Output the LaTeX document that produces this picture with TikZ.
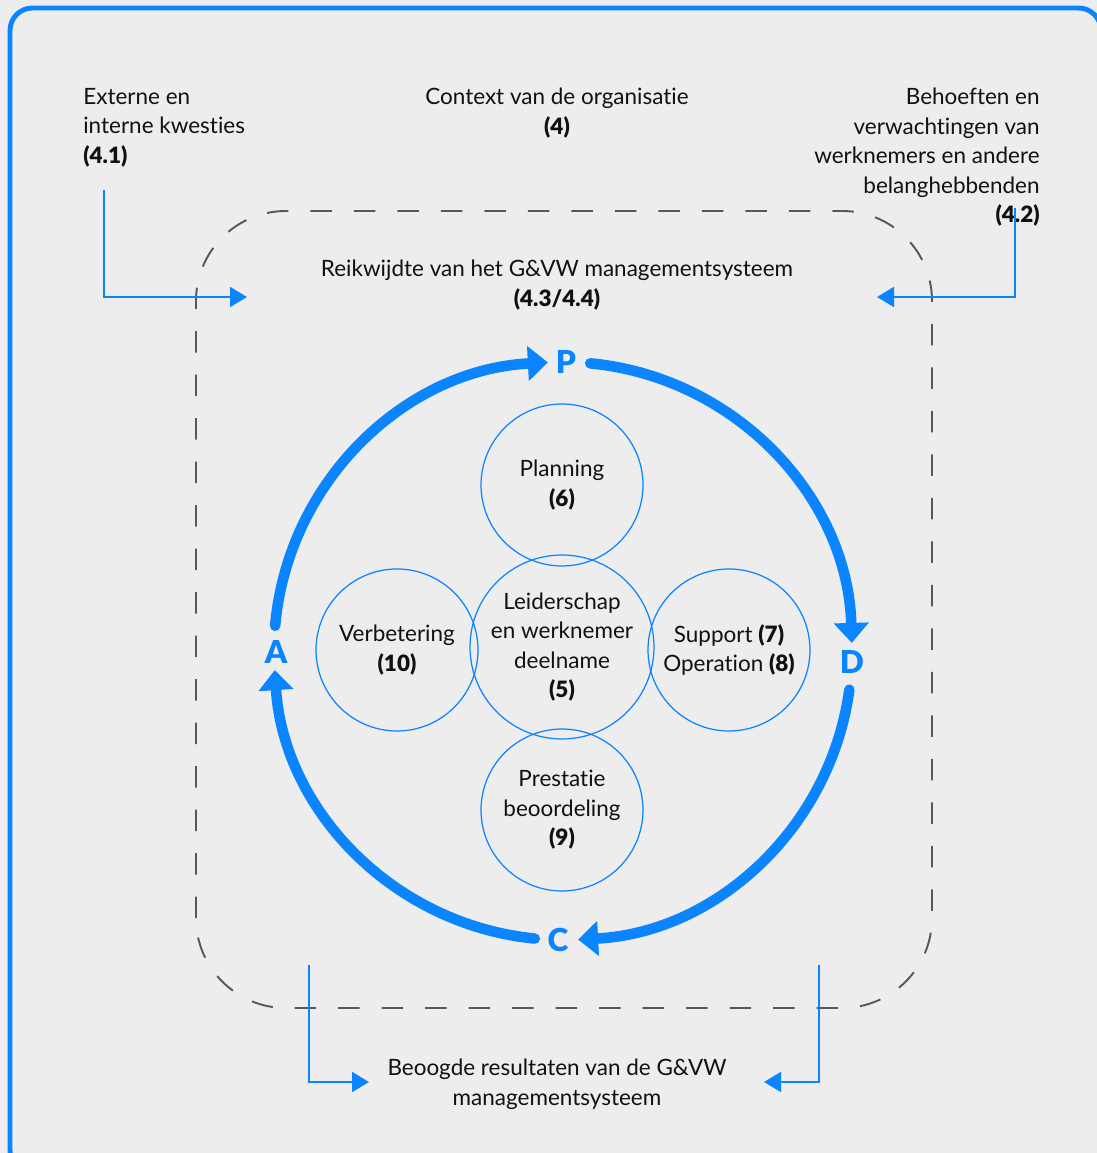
\documentclass[tikz,border=0pt]{standalone}
\usepackage{fontspec}
\setmainfont{Lato}[RawFeature={-liga;-dlig}, BoldFont={Lato Black}]
\usetikzlibrary{arrows.meta,positioning}
\definecolor{isoblue}{RGB}{10,132,255}
\definecolor{bggray}{RGB}{237,237,237}
\definecolor{dashgray}{RGB}{85,88,92}
\definecolor{ink}{RGB}{17,17,17}
\begin{document}
\begin{tikzpicture}[x=0.02cm,y=0.02cm,
    lbl/.style={font=\fontsize{12.8}{16.8}\selectfont, text=ink, inner sep=0pt},
    bub/.style={lbl, circle, draw=isoblue, line width=0.7pt, minimum size=3.24cm, align=center},
    pdca/.style={isoblue, line width=6pt, line cap=round, -{Triangle[width=0.68cm,length=0.4cm]}},
    feed/.style={isoblue, line width=1.1pt, -{Triangle[width=0.4cm,length=0.34cm]}},
    letter/.style={text=isoblue, font=\fontsize{18}{18}\selectfont\bfseries, inner sep=0pt}]
    \useasboundingbox (0,0) rectangle (1097,1153);
    \clip (0,0) rectangle (1097,1153);
    \fill[bggray] (0,0) rectangle (1097,1153);
    \draw[isoblue, line width=2.8pt, rounded corners=0.45cm] (10,-20) rectangle (1101,1145);
    \draw[dashgray, line width=1.1pt, dash pattern=on 0.43cm off 0.44cm, rounded corners=1.8cm] (196,145) rectangle (932,942);

    \node[lbl, anchor=north west, align=left] (ext) at (83,1065) {Externe en\\interne kwesties\\\textbf{(4.1)}};
    \node[lbl, anchor=north, align=center] (ctx) at (557,1065) {Context van de organisatie\\\textbf{(4)}};
    \node[lbl, anchor=north east, align=right] (beh) at (1040,1065) {Behoeften en\\verwachtingen van\\werknemers en andere\\belanghebbenden\\\textbf{(4.2)}};
    \node[lbl, anchor=north, align=center] (scope) at (557,893) {Reikwijdte van het G\&VW managementsysteem\\\textbf{(4.3/4.4)}};
    \node[lbl, anchor=north, align=center] (res) at (557,94) {Beoogde resultaten van de G\&VW\\managementsysteem};

    \coordinate (in1) at (104,963); \coordinate (in1e) at (247,856);
    \coordinate (in2) at (1015,945); \coordinate (in2e) at (877,856);
    \coordinate (out1) at (309,188); \coordinate (out1e) at (369,71);
    \coordinate (out2) at (819,188); \coordinate (out2e) at (764,71);
    \draw[feed] (in1) |- (in1e);
    \draw[feed] (in2) |- (in2e);
    \draw[feed] (out1) |- (out1e);
    \draw[feed] (out2) |- (out2e);

    \node[bub, minimum size=3.68cm] (lead) at (562,506) {Leiderschap\\en werknemer\\deelname\\\textbf{(5)}};
    \node[bub] (plan) at (562,668) {Planning\\\textbf{(6)}};
    \node[bub] (verb) at (397,503) {Verbetering\\\textbf{(10)}};
    \node[bub] (supp) at (729,503) {Support \textbf{(7)}\\Operation \textbf{(8)}};
    \node[bub] (pres) at (562,343) {Prestatie\\beoordeling\\\textbf{(9)}};

    \coordinate (o) at (563,502);
    \draw[pdca] (o) ++(175:5.78cm) arc[start angle=175, end angle=93, radius=5.78cm];
    \draw[pdca] (o) ++(84.6:5.78cm) arc[start angle=84.6, end angle=1.6, radius=5.78cm];
    \draw[pdca] (o) ++(-7.7:5.78cm) arc[start angle=-7.7, end angle=-87, radius=5.78cm];
    \draw[pdca] (o) ++(264.4:5.78cm) arc[start angle=264.4, end angle=183.8, radius=5.78cm];
    \node[letter] (P) at (566,791) {P};
    \node[letter] (D) at (852,491) {D};
    \node[letter] (C) at (558,213) {C};
    \node[letter] (A) at (276,501) {A};
\end{tikzpicture}
\end{document}
